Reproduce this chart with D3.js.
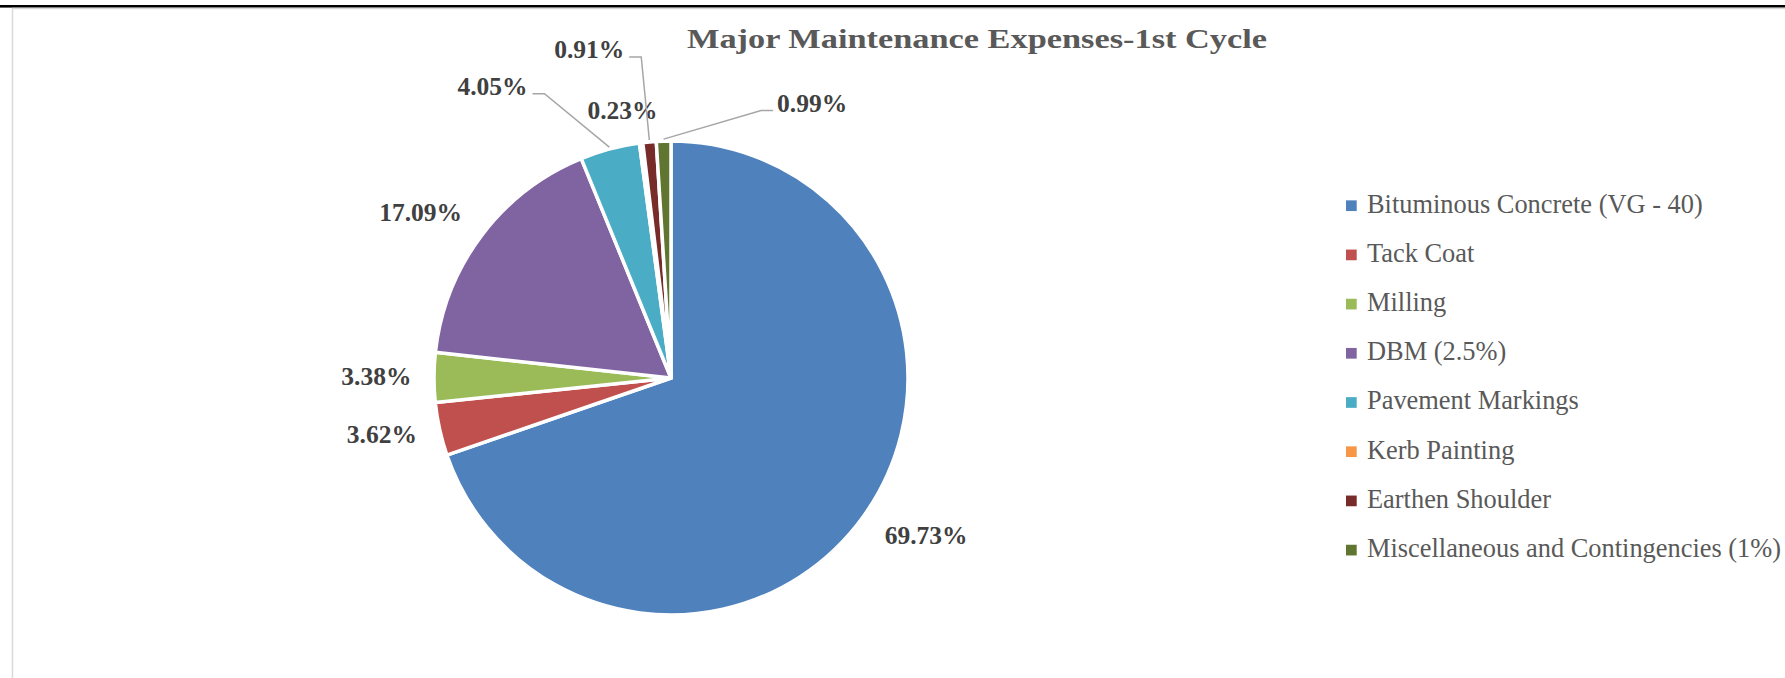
<!DOCTYPE html>
<html>
<head>
<meta charset="utf-8">
<script src="https://cdn.jsdelivr.net/npm/d3@7"></script>
<style>
  html, body { margin: 0; padding: 0; background: #fff; }
  svg { display: block; }
</style>
</head>
<body>
<svg id="chart" width="1785" height="678"></svg>
<script>
// Cost shares of the first major maintenance cycle (percent)
const categories = [
  "Bituminous Concrete (VG - 40)",
  "Tack Coat",
  "Milling",
  "DBM (2.5%)",
  "Pavement Markings",
  "Kerb Painting",
  "Earthen Shoulder",
  "Miscellaneous and Contingencies (1%)"
];
const shares = [69.73, 3.62, 3.38, 17.09, 4.05, 0.23, 0.91, 0.99];
const sliceColors = ["#4F81BD", "#C0504D", "#9BBB59", "#8064A2", "#4BACC6", "#F79646", "#772C2A", "#5F7530"];
const chartTitle = "Major Maintenance Expenses-1st Cycle";

// Label placement: polar angle (degrees clockwise from 12 o'clock) and
// distance in pie radii; `leader` draws a connector back to the slice.
const labelPlacement = [
  { angle: 121.7, dist: 1.265, leader: false },
  { angle: 258.9, dist: 1.243, leader: false },
  { angle: 270.3, dist: 1.243, leader: false },
  { angle: 303.5, dist: 1.267, leader: false },
  { angle: 328.5, dist: 1.442, leader: true },
  { angle: 349.7, dist: 1.146, leader: false },
  { angle: 346.0, dist: 1.427, leader: true },
  { angle: 27.2,  dist: 1.303, leader: true }
];

const svg = d3.select("#chart");
const W = 1785, H = 678;

// frame: dark rule across the top and a light chart-area border
svg.append("rect").attr("x", 0).attr("y", 5).attr("width", W).attr("height", 2.6).attr("fill", "#000");
svg.append("rect").attr("x", 12.5).attr("y", 8.5).attr("width", W + 20).attr("height", H + 20)
  .attr("fill", "none").attr("stroke", "#d9d9d9").attr("stroke-width", 1.5);

// title
svg.append("text")
  .attr("x", 977).attr("y", 48)
  .attr("text-anchor", "middle")
  .attr("font-family", "'Liberation Serif', serif")
  .attr("font-weight", "bold")
  .attr("font-size", 27)
  .attr("fill", "#595959")
  .attr("textLength", 580)
  .attr("lengthAdjust", "spacingAndGlyphs")
  .text(chartTitle);

// pie
const cx = 671, cy = 378, R = 237;
const rows = categories.map((c, i) => ({ name: c, value: shares[i], color: sliceColors[i], place: labelPlacement[i] }));
const pie = d3.pie().value(d => d.value).sort(null);
const arcs = pie(rows);
const arc = d3.arc().innerRadius(0).outerRadius(R);

const g = svg.append("g").attr("transform", `translate(${cx},${cy})`);
g.selectAll("path.slice")
  .data(arcs)
  .enter().append("path")
  .attr("class", "slice")
  .attr("d", arc)
  .attr("fill", d => d.data.color)
  .attr("stroke", "#fff")
  .attr("stroke-width", 3.5)
  .attr("stroke-linejoin", "round");

// data labels
const fmt = v => v.toFixed(2) + "%";
const toRad = a => a * Math.PI / 180;
const capMid = 8.6;
const labels = g.selectAll("g.lbl")
  .data(arcs)
  .enter().append("g").attr("class", "lbl");

labels.each(function(d) {
  const p = d.data.place;
  const lx = Math.sin(toRad(p.angle)) * p.dist * R;
  const ly = -Math.cos(toRad(p.angle)) * p.dist * R;
  const t = d3.select(this).append("text")
    .attr("x", lx).attr("y", ly + capMid)
    .attr("text-anchor", "middle")
    .attr("font-family", "'Liberation Serif', serif")
    .attr("font-weight", "bold")
    .attr("font-size", 25.5)
    .attr("fill", "#404040")
    .text(fmt(d.data.value));
  if (p.leader) {
    const mid = (d.startAngle + d.endAngle) / 2;
    const ex = Math.sin(mid) * (R + 2), ey = -Math.cos(mid) * (R + 2);
    const w = t.node().getComputedTextLength();
    const toRight = ex > lx;
    const sx = toRight ? lx + w / 2 + 5 : lx - w / 2 - 4;
    const sy = ly + capMid - 1.5;
    const kx = sx + (toRight ? 12 : -12);
    d3.select(this).insert("path", "text")
      .attr("d", d3.line()([[sx, sy], [kx, sy], [ex, ey]]))
      .attr("fill", "none")
      .attr("stroke", "#a6a6a6")
      .attr("stroke-width", 1.5);
  }
});

// legend
const legend = svg.append("g").attr("transform", "translate(1346,205.7)");
const step = 49.2, box = 10.7;
const items = legend.selectAll("g.item")
  .data(rows)
  .enter().append("g").attr("class", "item")
  .attr("transform", (d, i) => `translate(0,${i * step})`);
items.append("rect")
  .attr("x", 0).attr("y", -box / 2)
  .attr("width", box).attr("height", box)
  .attr("fill", d => d.color);
items.append("text")
  .attr("x", 21).attr("y", 6.8)
  .attr("font-family", "'Liberation Serif', serif")
  .attr("font-size", 26.4)
  .attr("fill", "#595959")
  .text(d => d.name);
</script>
</body>
</html>
